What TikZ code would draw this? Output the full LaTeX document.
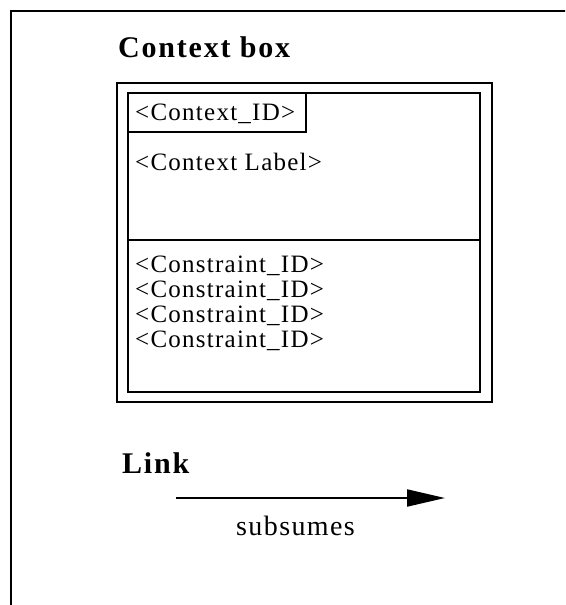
\documentclass[tikz,border=0pt]{standalone}
\usepackage{fontspec}
\setmainfont{Liberation Serif}
\newfontfamily\idfont[LetterSpace=5]{Liberation Serif}
\newfontfamily\headfont[LetterSpace=6]{Liberation Serif}
\newfontfamily\linkfont[LetterSpace=5]{Liberation Serif}
\usetikzlibrary{arrows.meta}

\tikzset{
  boxline/.style={line width=2.5pt},
  idtext/.style={anchor=base west, inner sep=0pt, font=\idfont\fontsize{25}{27}\selectfont},
  headtext/.style={anchor=base west, inner sep=0pt, font=\headfont\bfseries\fontsize{30}{32}\selectfont},
}

\begin{document}
\begin{tikzpicture}[x=1pt, y=-1pt]
\useasboundingbox (0, 0) rectangle (565, 605);
\clip (0, 0) rectangle (565, 605);
\draw [line width=2.3pt] (11, 620) -- (11, 11) -- (580, 11);
\node (boxtitle) [headtext] at (118, 57) {Context box};
\draw [boxline] (117, 83) rectangle (492, 402);
\draw [boxline] (128, 93) rectangle (480, 392);
\draw [boxline] (128, 240) -- (480, 240);
\draw [boxline] (128, 93) rectangle (306, 132);
\node (ctxid) [idtext] at (135, 120) {<Context\_ID>};
\node (ctxlabel) [idtext] at (135, 170) {<Context Label>};
\foreach \i in {0,...,3}
  \node (constr\i) [idtext] at (135, 272+25*\i) {<Constraint\_ID>};
\node (linktitle) [headtext] at (122, 473) {Link};
\coordinate (linkstart) at (176, 498);
\coordinate (linkend) at (445, 498);
\draw [-{Triangle[length=38pt, width=17pt]}, line width=2pt] (linkstart) -- (linkend);
\node (linklabel) [anchor=base west, inner sep=0pt, font=\linkfont\fontsize{28}{30}\selectfont] at (236, 535) {subsumes};
\end{tikzpicture}
\end{document}
